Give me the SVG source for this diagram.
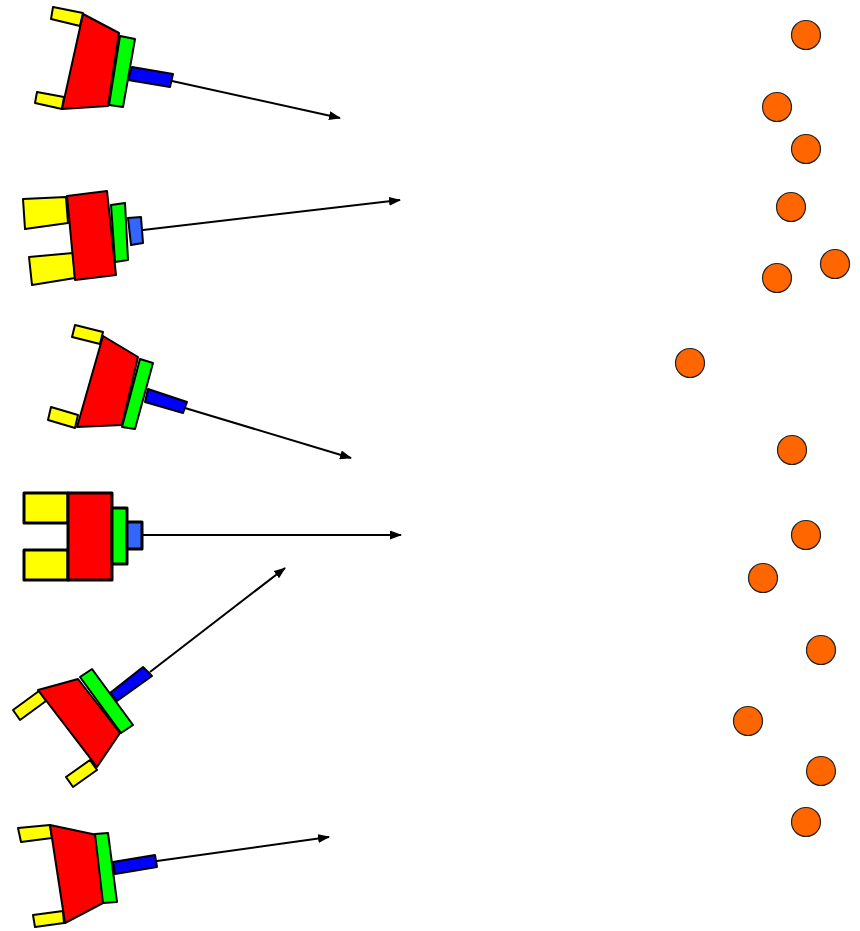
<svg xmlns="http://www.w3.org/2000/svg" width="860" height="931" viewBox="0 0 860 931">
<defs>
<style>
.y{fill:#FFFF00;stroke:#000;stroke-width:2;stroke-linejoin:round}
.r{fill:#FF0000;stroke:#000;stroke-width:2;stroke-linejoin:round}
.g{fill:#00FF00;stroke:#000;stroke-width:2;stroke-linejoin:round}
.b{fill:#0000FF;stroke:#000;stroke-width:2;stroke-linejoin:round}
.lb{fill:#3366FF;stroke:#000;stroke-width:2;stroke-linejoin:round}
.thick{stroke-width:3}
.dot{fill:#FF6600;stroke:#222;stroke-width:1.2}
.arr{stroke:#000;stroke-width:2;fill:none;marker-end:url(#ah)}
</style>
<marker id="ah" viewBox="0 0 12 9" refX="11" refY="4.5" markerWidth="12" markerHeight="9" markerUnits="userSpaceOnUse" orient="auto">
<path d="M0,0 L12,4.5 L0,9 Z" fill="#000"/>
</marker>
</defs>
<rect width="860" height="931" fill="#fff"/>
<g id="connectors">
<line class="arr" x1="172" y1="81" x2="340" y2="118"/>
<line class="arr" x1="143" y1="230" x2="400" y2="200"/>
<line class="arr" x1="185" y1="408" x2="351" y2="458"/>
<line class="arr" x1="142" y1="535" x2="401" y2="535"/>
<line class="arr" x1="150" y1="672" x2="285" y2="568"/>
<line class="arr" x1="157" y1="861" x2="329" y2="837"/>
</g>
<g id="robot1">
<polygon class="y" points="53,7 83,13 80,26 51,19"/>
<polygon class="y" points="37,92 64,97 62,109 35,103"/>
<polygon class="r" points="83,14 119,33 108,106 62,109"/>
<polygon class="g" points="120,36 135,39 123,107 109,105"/>
<polygon class="b" points="132,67 173,74 170,87 128,80"/>
</g>
<g id="robot2">
<polygon class="y" points="23,199 66,197 68,223 25,229"/>
<polygon class="y" points="29,257 73,253 75,278 32,285"/>
<polygon class="r" points="67,196 107,191 116,275 75,280"/>
<polygon class="g" points="111,205 125,203 128,260 115,262"/>
<polygon class="lb" points="128,218 141,217 143,243 131,245"/>
</g>
<g id="robot3">
<polygon class="y" points="75,325 103,332 100,344 72,337"/>
<polygon class="y" points="51,407 78,415 75,428 48,420"/>
<polygon class="r" points="103,336 138,357 122,425 77,427"/>
<polygon class="g" points="140,359 153,363 135,429 122,427"/>
<polygon class="b" points="148,389 187,402 183,413 145,402"/>
</g>
<g id="robot4">
<rect class="y thick" x="24" y="493" width="44" height="30"/>
<rect class="y thick" x="24" y="550" width="44" height="30"/>
<rect class="r thick" x="68" y="493" width="44" height="87"/>
<rect class="g thick" x="112" y="508" width="15" height="56"/>
<rect class="lb thick" x="127" y="522" width="15" height="27"/>
</g>
<g id="robot5">
<polygon class="y" points="13,710 39,691 46,701 20,720"/>
<polygon class="y" points="66,777 90,760 97,770 73,787"/>
<polygon class="r" points="38,690 78,679 120,733 97,767"/>
<polygon class="g" points="80,677 92,669 133,725 121,733"/>
<polygon class="b" points="110,693 143,667 152,676 117,701"/>
</g>
<g id="robot6">
<polygon class="y" points="18,828 50,825 52,838 21,842"/>
<polygon class="y" points="33,915 63,911 64,923 35,927"/>
<polygon class="r" points="50,825 97,835 103,903 65,923"/>
<polygon class="g" points="95,834 108,833 117,902 103,903"/>
<polygon class="b" points="113,862 155,855 157,867 115,874"/>
</g>
<g id="targets">
<circle id="t1" class="dot" cx="806" cy="35" r="14.5"/>
<circle id="t2" class="dot" cx="777" cy="107" r="14.5"/>
<circle id="t3" class="dot" cx="806" cy="149" r="14.5"/>
<circle id="t4" class="dot" cx="791" cy="207" r="14.5"/>
<circle id="t5" class="dot" cx="835" cy="264" r="14.5"/>
<circle id="t6" class="dot" cx="777" cy="278" r="14.5"/>
<circle id="t7" class="dot" cx="690" cy="363" r="14.5"/>
<circle id="t8" class="dot" cx="792" cy="450" r="14.5"/>
<circle id="t9" class="dot" cx="806" cy="535" r="14.5"/>
<circle id="t10" class="dot" cx="763" cy="578" r="14.5"/>
<circle id="t11" class="dot" cx="821" cy="650" r="14.5"/>
<circle id="t12" class="dot" cx="748" cy="721" r="14.5"/>
<circle id="t13" class="dot" cx="821" cy="771" r="14.5"/>
<circle id="t14" class="dot" cx="806" cy="822" r="14.5"/>
</g>
</svg>
